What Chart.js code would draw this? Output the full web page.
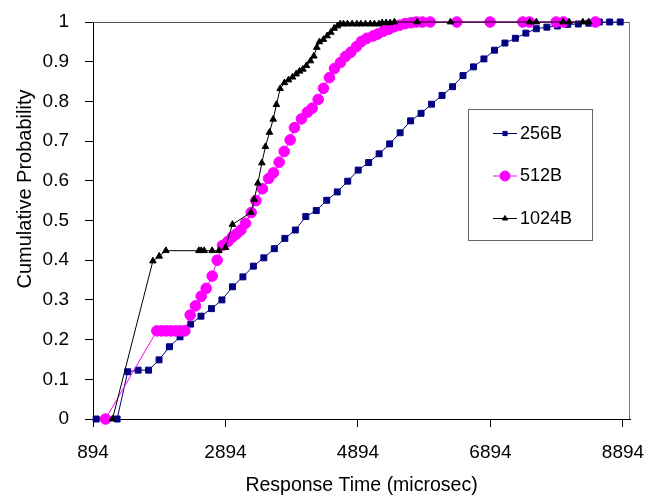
<!DOCTYPE html>
<html>
<head>
<meta charset="utf-8">
<script src="https://cdn.jsdelivr.net/npm/chart.js@4.4.1/dist/chart.umd.min.js"></script>
<style>
  html, body { margin: 0; padding: 0; background: #fff; }
  #wrap { width: 646px; height: 497px; }
</style>
</head>
<body>
<div id="wrap"><canvas id="cdf" width="646" height="497"></canvas></div>
<script>
// values
const seriesNames = ['256B', '512B', '1024B']

const x256 = [942, 1100, 1258, 1417, 1575, 1733, 1891, 2049, 2208, 2366, 2524, 2682, 2840, 2999, 3157, 3315, 3473,
  3631, 3790, 3948, 4106, 4264, 4422, 4581, 4739, 4897, 5055, 5213, 5372, 5530, 5688, 5846, 6004, 6163, 6321, 6479,
  6637, 6795, 6954, 7112, 7270, 7428, 7586, 7745, 7903, 8061, 8219, 8377, 8536, 8694, 8852]
const y256 = [0, 0, 0, 0.119, 0.123, 0.123, 0.149, 0.182, 0.207, 0.239, 0.259, 0.278, 0.300, 0.333, 0.358, 0.385,
  0.406, 0.429, 0.455, 0.476, 0.510, 0.525, 0.551, 0.572, 0.599, 0.627, 0.646, 0.668, 0.693, 0.721, 0.751, 0.770,
  0.793, 0.815, 0.837, 0.865, 0.887, 0.907, 0.929, 0.947, 0.959, 0.972, 0.983, 0.987, 0.990, 0.994, 0.995, 0.997,
  1, 1, 1]

const x512 = [1083, 1858, 1928, 1999, 2070, 2139, 2210, 2281, 2361, 2441, 2527, 2602, 2693, 2768, 2848, 2930, 2995,
  3060, 3126, 3196, 3282, 3353, 3452, 3546, 3618, 3704, 3780, 3870, 3935, 4041, 4131, 4202, 4293, 4373, 4463, 4539,
  4629, 4705, 4786, 4871, 4946, 5028, 5123, 5194, 5278, 5360, 5440, 5520, 5606, 5692, 5776, 5867, 5983, 6386, 6888,
  7382, 7482, 7885, 7995, 8478]
const y512 = [0, 0.222, 0.222, 0.222, 0.222, 0.222, 0.222, 0.222, 0.262, 0.285, 0.309, 0.329, 0.360, 0.400, 0.437,
  0.447, 0.458, 0.466, 0.476, 0.493, 0.520, 0.550, 0.580, 0.606, 0.620, 0.647, 0.674, 0.703, 0.734, 0.756, 0.773,
  0.783, 0.805, 0.833, 0.860, 0.883, 0.898, 0.913, 0.924, 0.938, 0.951, 0.959, 0.965, 0.970, 0.977, 0.982, 0.988,
  0.992, 0.996, 0.998, 1, 1, 1, 1, 1, 1, 1, 1, 1, 1]

const x1024 = [1188, 1798, 1893, 1994, 2492, 2527, 2572, 2693, 2794, 2894, 2999, 3277, 3327, 3383, 3443, 3497, 3558,
  3614, 3663, 3719, 3784, 3845, 3905, 3961, 4011, 4062, 4116, 4177, 4228, 4273, 4312, 4373, 4429, 4484, 4534, 4584,
  4625, 4675, 4735, 4806, 4877, 4937, 5007, 5078, 5142, 5209, 5259, 5319, 5380, 5444, 5787, 6290, 7488, 7587, 7990,
  8081, 8288, 8378]
const y1024 = [0, 0.398, 0.410, 0.424, 0.424, 0.424, 0.424, 0.424, 0.424, 0.432, 0.490, 0.520, 0.553, 0.594, 0.645,
  0.686, 0.722, 0.755, 0.792, 0.832, 0.847, 0.854, 0.861, 0.869, 0.876, 0.881, 0.890, 0.902, 0.914, 0.936, 0.950,
  0.956, 0.965, 0.974, 0.984, 0.990, 0.995, 0.995, 0.995, 0.995, 0.995, 0.995, 0.995, 0.995, 0.995, 0.995, 0.998,
  0.998, 0.998, 1, 1, 1, 1, 1, 1, 1, 1, 1]

const xTickValues = [894, 2894, 4894, 6894, 8894]
const yTickValues = [0, 0.1, 0.2, 0.3, 0.4, 0.5, 0.6, 0.7, 0.8, 0.9, 1]
const xTitle = 'Response Time (microsec)'
const yTitle = 'Cumulative Probability'

const FONT = '"Liberation Sans", Arial, sans-serif'

function toPoints(xs, ys) {
  return xs.map((x, i) => ({ x: x, y: ys[i] }))
}

// grey frame on top / right of the plot, like the excel plot area
const plotFrame = {
  id: 'plotFrame',
  beforeDatasetsDraw(chart) {
    const { ctx, chartArea: a } = chart
    ctx.save()
    ctx.lineWidth = 1
    ctx.strokeStyle = '#555'
    ctx.beginPath()
    ctx.moveTo(a.left, a.top + 0.5)
    ctx.lineTo(a.right, a.top + 0.5)
    ctx.stroke()
    ctx.strokeStyle = '#808080'
    ctx.beginPath()
    ctx.moveTo(a.right - 0.5, a.top)
    ctx.lineTo(a.right - 0.5, a.bottom)
    ctx.stroke()
    ctx.restore()
  }
}

// y title sits a bit above the middle of the axis in the original
const sideTitle = {
  id: 'sideTitle',
  afterDraw(chart, args, opts) {
    const ctx = chart.ctx
    ctx.save()
    ctx.translate(opts.x, opts.y)
    ctx.rotate(-Math.PI / 2)
    ctx.font = opts.size + 'px ' + FONT
    ctx.fillStyle = '#000'
    ctx.textAlign = 'center'
    ctx.textBaseline = 'middle'
    ctx.fillText(opts.text, 0, 0)
    ctx.restore()
  }
}

// boxed legend inside the plot area
const boxLegend = {
  id: 'boxLegend',
  afterDatasetsDraw(chart, args, opts) {
    const ctx = chart.ctx
    ctx.save()
    ctx.fillStyle = '#fff'
    ctx.fillRect(opts.x, opts.y, opts.w, opts.h)
    ctx.strokeStyle = '#666'
    ctx.lineWidth = 1
    ctx.strokeRect(opts.x + 0.5, opts.y + 0.5, opts.w, opts.h)
    chart.data.datasets.forEach((ds, i) => {
      const cy = opts.y + opts.rowTop + i * opts.rowGap
      const x0 = opts.x + 25
      ctx.strokeStyle = ds.borderColor
      ctx.lineWidth = 1
      ctx.beginPath()
      ctx.moveTo(x0, cy + 0.5)
      ctx.lineTo(x0 + 24, cy + 0.5)
      ctx.stroke()
      ctx.fillStyle = ds.pointBackgroundColor
      ctx.strokeStyle = ds.pointBorderColor
      Chart.helpers.drawPoint(ctx, {
        pointStyle: ds.pointStyle,
        radius: opts.markerRadius[i],
        borderWidth: 1,
        rotation: 0
      }, x0 + 12, cy + 0.5)
      ctx.fillStyle = '#000'
      ctx.font = '18px ' + FONT
      ctx.textAlign = 'left'
      ctx.textBaseline = 'middle'
      ctx.fillText(ds.label, x0 + 27, cy + 1)
    })
    ctx.restore()
  }
}

new Chart(document.getElementById('cdf'), {
  type: 'scatter',
  data: {
    datasets: [
      {
        label: seriesNames[0],
        data: toPoints(x256, y256),
        showLine: true,
        borderColor: '#000080',
        backgroundColor: '#000080',
        borderWidth: 1,
        pointStyle: 'rect',
        pointRadius: 4.2,
        pointBorderWidth: 1,
        pointBackgroundColor: '#000080',
        pointBorderColor: '#000080',
        clip: false,
        order: 3
      },
      {
        label: seriesNames[1],
        data: toPoints(x512, y512),
        showLine: true,
        borderColor: '#ff00ff',
        backgroundColor: '#ff00ff',
        borderWidth: 1,
        pointStyle: 'circle',
        pointRadius: 5.3,
        pointBorderWidth: 1,
        pointBackgroundColor: '#ff00ff',
        pointBorderColor: '#ff00ff',
        clip: false,
        order: 2
      },
      {
        label: seriesNames[2],
        data: toPoints(x1024, y1024),
        showLine: true,
        borderColor: '#000000',
        backgroundColor: '#000000',
        borderWidth: 1,
        pointStyle: 'triangle',
        pointRadius: 3.8,
        pointBorderWidth: 1,
        pointBackgroundColor: '#000000',
        pointBorderColor: '#000000',
        clip: false,
        order: 1
      }
    ]
  },
  options: {
    responsive: false,
    animation: false,
    layout: { padding: { top: 22, right: 16, bottom: 0, left: 0 } },
    plugins: {
      legend: { display: false },
      tooltip: { enabled: false },
      sideTitle: { text: yTitle, x: 25, y: 189, size: 20 },
      boxLegend: { x: 468, y: 109, w: 124, h: 131, rowTop: 24, rowGap: 42.5, markerRadius: [3, 5, 3] }
    },
    scales: {
      x: {
        type: 'linear',
        min: 894,
        max: 9000,
        afterBuildTicks: s => { s.ticks = xTickValues.map(v => ({ value: v })) },
        afterFit: s => { s.height = 78; s.paddingLeft = 0; s.paddingRight = 0 },
        grid: { drawOnChartArea: false, drawTicks: true, tickLength: 8, color: '#000' },
        border: { display: true, color: '#000', width: 1 },
        ticks: {
          color: '#000',
          padding: 14,
          maxRotation: 0,
          autoSkip: false,
          font: { family: FONT, size: 19 },
          callback: v => String(v)
        },
        title: { display: true, text: xTitle, color: '#000', font: { family: FONT, size: 19.5 }, padding: { top: 0, bottom: 0 } }
      },
      y: {
        type: 'linear',
        min: 0,
        max: 1,
        afterBuildTicks: s => { s.ticks = yTickValues.map(v => ({ value: v })) },
        afterFit: s => { s.width = 93; s.paddingTop = 0; s.paddingBottom = 0 },
        grid: { drawOnChartArea: false, drawTicks: true, tickLength: 8, color: '#000' },
        border: { display: true, color: '#000', width: 1 },
        ticks: {
          color: '#000',
          padding: 16,
          autoSkip: false,
          font: { family: FONT, size: 19 },
          callback: v => String(Math.round(v * 10) / 10)
        },
        title: { display: false, text: yTitle }
      }
    }
  },
  plugins: [plotFrame, sideTitle, boxLegend]
})
</script>
</body>
</html>
